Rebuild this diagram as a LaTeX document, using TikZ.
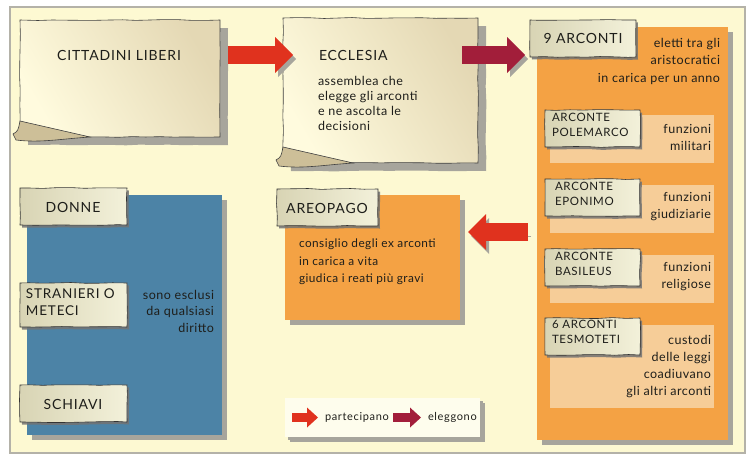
\documentclass[tikz,border=0pt]{standalone}
\usepackage{fontspec}
\setmainfont{Lato}
\newfontfamily\capsf[LetterSpace=6]{Lato}
\newfontfamily\bodyf[LetterSpace=4]{Lato}
\newfontfamily\legf[LetterSpace=6]{Lato}
\usetikzlibrary{shadows,arrows.meta,calc,decorations.pathmorphing}
\definecolor{cream}{HTML}{FDF9D2}
\definecolor{panelgray}{HTML}{B4B2A8}
\definecolor{papL}{HTML}{E4D8B4}
\definecolor{papR}{HTML}{FFFBDE}
\definecolor{labL}{HTML}{D8D4B4}
\definecolor{labR}{HTML}{F3F1DA}
\definecolor{curlc}{HTML}{CDBF98}
\definecolor{orng}{HTML}{F4A244}
\definecolor{peach}{HTML}{F6CD98}
\definecolor{steel}{HTML}{4C83A6}
\definecolor{arrred}{HTML}{E0321E}
\definecolor{arrdark}{HTML}{A21E3A}
\definecolor{shgray}{HTML}{A7A59C}
\definecolor{txt}{HTML}{1E1E1A}
\begin{document}
\begin{tikzpicture}[x=1pt,y=-1pt,
  every node/.style={inner sep=0pt, outer sep=0pt, text=txt},
  rough/.style={decorate, decoration={random steps, segment length=14pt, amplitude=0.5pt}},
  bigpaper/.style={rectangle, draw=black!75, line width=0.6pt, left color=papL, right color=papR, shading angle=-60, rough,
    drop shadow={shadow xshift=8pt, shadow yshift=-8pt, fill=shgray, opacity=1}},
  labpaper/.style={rectangle, draw=black!80, line width=0.6pt, left color=labL, right color=labR, rough,
    drop shadow={shadow xshift=2pt, shadow yshift=-2.5pt, fill=black!55, opacity=0.85}},
  flatbox/.style={rectangle, draw=none, drop shadow={shadow xshift=5pt, shadow yshift=-5pt, fill=shgray, opacity=1}},
  subbox/.style={rectangle, fill=peach, draw=none},
  curl/.style={fill=curlc, draw=black!75, line width=0.6pt},
  title/.style={font=\capsf\fontsize{14}{16}\selectfont},
  labtxt/.style={font=\capsf\fontsize{11.5}{15.5}\selectfont, align=left},
  body/.style={font=\bodyf\fontsize{12.5}{15}\selectfont},
  side/.style={font=\bodyf\fontsize{12.5}{17.5}\selectfont, align=right, anchor=north east},
  legtxt/.style={font=\legf\fontsize{11}{12}\selectfont, anchor=west},
  blockarrow/.style={line width=18pt, -{Triangle[length=18pt,width=36pt,line width=0pt]},
    preaction={draw=shgray, transform canvas={shift={(3pt,-4pt)}}}},
  legarrow/.style={line width=9pt, -{Triangle[length=11pt,width=20pt,line width=0pt]}}
]
\useasboundingbox (0,0) rectangle (756,463);
\fill[white] (0,0) rectangle (756,463);
\draw[panelgray, line width=1.6pt, fill=cream] (10,7) rectangle (745,453);

% ---------- top row papers ----------
\node[bigpaper, minimum width=200pt, minimum height=117pt] (citt) at (120,78.5) {};
\draw[curl] ($(citt.south west)+(0,-16)$) .. controls ($(citt.south west)+(-2,-6)$) .. ($(citt.south west)+(-7,-3)$)
  -- ($(citt.south west)+(-4,3)$) .. controls ($(citt.south west)+(20,6)$) and ($(citt.south west)+(40,2)$) .. ($(citt.south west)+(70,0)$) -- cycle;
\node[title] (citt-t) at (119,55) {CITTADINI LIBERI};

\node[bigpaper, minimum width=195pt, minimum height=145pt] (eccl) at (380.5,90.5) {};
\draw[curl] ($(eccl.south west)+(0,-16)$) .. controls ($(eccl.south west)+(-2,-6)$) .. ($(eccl.south west)+(-7,-3)$)
  -- ($(eccl.south west)+(-4,3)$) .. controls ($(eccl.south west)+(20,6)$) and ($(eccl.south west)+(40,2)$) .. ($(eccl.south west)+(70,0)$) -- cycle;
\node[title, anchor=west] (eccl-t) at (319,55) {ECCLESIA};
\node[body, anchor=north west, align=left] (eccl-b) at (318,76) {assemblea che\\elegge gli arconti\\e ne ascolta le\\decisioni};

% ---------- arconti ----------
\node[flatbox, fill=orng, minimum width=191pt, minimum height=413pt] (arc) at (632.5,233.5) {};
\node[labpaper, minimum width=106pt, minimum height=37pt] (arc-l) at (583,38.5) {};
\node[title] (arc-t) at (583,38) {9 ARCONTI};
\node[side] (arc-s) at (720,38) {eletti tra gli\\aristocratici\\in carica per un anno};

\node[subbox, minimum width=164pt, minimum height=48pt] (sp1) at (632,139) {};
\node[labpaper, minimum width=95pt, minimum height=37pt] (l1) at (592.5,128.5) {};
\node[labtxt, anchor=north west] (l1-t) at (552,113) {ARCONTE\\POLEMARCO};
\node[side] (s1) at (711,124) {funzioni\\militari};

\node[subbox, minimum width=164pt, minimum height=48pt] (sp2) at (632,209) {};
\node[labpaper, minimum width=95pt, minimum height=37pt] (l2) at (592.5,197.5) {};
\node[labtxt, anchor=north west] (l2-t) at (555,182) {ARCONTE\\EPONIMO};
\node[side] (s2) at (711,192) {funzioni\\giudiziarie};

\node[subbox, minimum width=164pt, minimum height=48pt] (sp3) at (632,279) {};
\node[labpaper, minimum width=95pt, minimum height=37pt] (l3) at (592.5,267.5) {};
\node[labtxt, anchor=north west] (l3-t) at (555,252) {ARCONTE\\BASILEUS};
\node[side] (s3) at (711,262) {funzioni\\religiose};

\node[subbox, minimum width=164pt, minimum height=83pt] (sp4) at (632,366.5) {};
\node[labpaper, minimum width=95pt, minimum height=37pt] (l4) at (592.5,336.5) {};
\node[labtxt, anchor=north west] (l4-t) at (552,320) {6 ARCONTI\\TESMOTETI};
\node[side, font=\bodyf\fontsize{12.5}{17}\selectfont] (s4) at (711,335) {custodi\\delle leggi\\coadiuvano\\gli altri arconti};

% ---------- areopago ----------
\node[flatbox, fill=orng, minimum width=175pt, minimum height=125pt] (areo) at (372.5,257.5) {};
\node[labpaper, minimum width=101pt, minimum height=37pt] (areo-l) at (327.5,207.5) {};
\node[title] (areo-t) at (327,208) {AREOPAGO};
\node[body, anchor=north west, align=left, font=\bodyf\fontsize{11.8}{17.5}\selectfont] (areo-b) at (299,239) {consiglio degli ex arconti\\in carica a vita\\giudica i reati più gravi};

% ---------- excluded ----------
\node[flatbox, fill=steel, minimum width=195pt, minimum height=240pt] (excl) at (124.5,315) {};
\node[labpaper, minimum width=107pt, minimum height=37pt] (donne) at (73.5,206.5) {};
\node[title] (donne-t) at (73,207) {DONNE};
\node[labpaper, minimum width=107pt, minimum height=44pt] (stra) at (73.5,305) {};
\node[title, anchor=north west, align=left, font=\capsf\fontsize{13.5}{17}\selectfont] (stra-t) at (26,289) {STRANIERI O\\METECI};
\node[labpaper, minimum width=107pt, minimum height=37pt] (schi) at (73.5,403.5) {};
\node[title] (schi-t) at (73,404) {SCHIAVI};
\node[side, font=\bodyf\fontsize{12.5}{16.5}\selectfont] (excl-s) at (214,290) {sono esclusi\\da qualsiasi\\diritto};

% ---------- arrows ----------
\coordinate (a1s) at ($(citt.east)+(8,-23.5)$);
\coordinate (a1e) at ($(eccl.west)+(10,-35.5)$);
\draw[blockarrow, draw=arrred] (a1s) -- (a1e);
\coordinate (a2s) at ($(eccl.east)+(-16,-35.5)$);
\coordinate (a2e) at ($(arc.west)+(-12,-178.5)$);
\draw[blockarrow, draw=arrdark] (a2s) -- (a2e);
\coordinate (a3s) at ($(arc.west)+(-9,-1.5)$);
\coordinate (a3e) at ($(areo.east)+(8,-25.5)$);
\draw[blockarrow, draw=arrred] (a3s) -- (a3e);

% ---------- legend ----------
\node[flatbox, fill=white!60!cream, minimum width=195pt, minimum height=39pt, drop shadow={shadow xshift=3pt, shadow yshift=-3pt, fill=shgray, opacity=1}] (leg) at (382.5,417.5) {};
\coordinate (lg1s) at ($(leg.west)+(7,0)$);
\coordinate (lg1e) at ($(leg.west)+(33,0)$);
\draw[legarrow, draw=arrred] (lg1s) -- (lg1e);
\node[legtxt] (leg1) at ($(leg.west)+(40,0)$) {partecipano};
\coordinate (lg2s) at ($(leg.west)+(108,0)$);
\coordinate (lg2e) at ($(leg.west)+(136,0)$);
\draw[legarrow, draw=arrdark] (lg2s) -- (lg2e);
\node[legtxt] (leg2) at ($(leg.west)+(143,0)$) {eleggono};
\end{tikzpicture}
\end{document}
